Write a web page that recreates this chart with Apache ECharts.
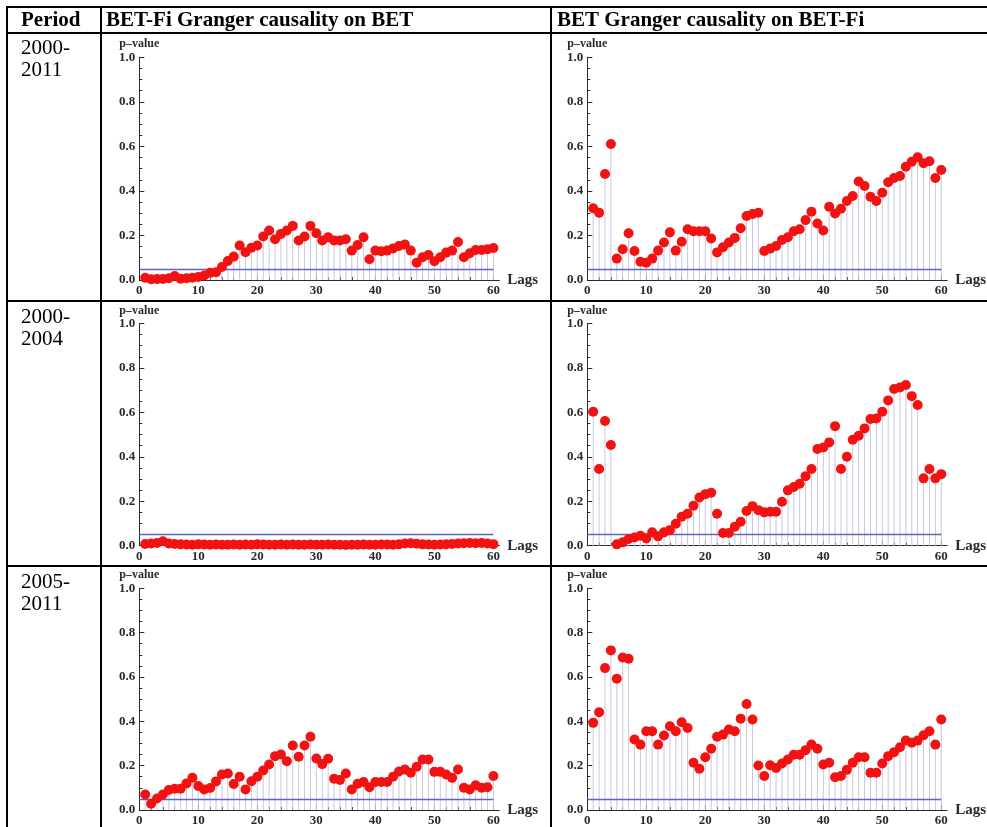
<!DOCTYPE html>
<html>
<head>
<meta charset="utf-8">
<script src="https://cdn.jsdelivr.net/npm/echarts@6/dist/echarts.min.js"></script>
<style>
  html, body { margin: 0; padding: 0; background: #ffffff; }
  #chart { width: 987px; height: 827px; }
</style>
</head>
<body>
<div id="chart"></div>
<script>
// Table headings and period labels
const columnTitles = ['Period', 'BET-Fi Granger causality on BET', 'BET Granger causality on BET-Fi'];
const periods = ['2000-\n2011', '2000-\n2004', '2005-\n2011'];

// Lag orders tested
const lags = [1, 2, 3, 4, 5, 6, 7, 8, 9, 10, 11, 12, 13, 14, 15, 16, 17, 18, 19, 20,
  21, 22, 23, 24, 25, 26, 27, 28, 29, 30, 31, 32, 33, 34, 35, 36, 37, 38, 39, 40,
  41, 42, 43, 44, 45, 46, 47, 48, 49, 50, 51, 52, 53, 54, 55, 56, 57, 58, 59, 60];

// Axis tick labels
const xTicks = [0, 10, 20, 30, 40, 50, 60];
const significance = 0.05;

// p-values: BET-Fi Granger-causes BET
const fiOnBet2000_2011 = [0.01, 0.003, 0.004, 0.005, 0.008, 0.018, 0.006, 0.008, 0.01, 0.014,
  0.02, 0.032, 0.035, 0.058, 0.085, 0.105, 0.155, 0.125, 0.145, 0.155,
  0.195, 0.222, 0.183, 0.207, 0.222, 0.243, 0.177, 0.195, 0.243, 0.21,
  0.177, 0.192, 0.177, 0.177, 0.183, 0.132, 0.157, 0.192, 0.093, 0.132,
  0.129, 0.132, 0.142, 0.153, 0.159, 0.132, 0.078, 0.102, 0.112, 0.084,
  0.102, 0.123, 0.132, 0.171, 0.102, 0.12, 0.135, 0.135, 0.138, 0.144];
const fiOnBet2000_2004 = [0.008, 0.01, 0.012, 0.02, 0.01, 0.008, 0.006, 0.005, 0.004, 0.006,
  0.005, 0.004, 0.005, 0.004, 0.004, 0.005, 0.004, 0.005, 0.004, 0.006,
  0.005, 0.004, 0.004, 0.005, 0.004, 0.005, 0.004, 0.004, 0.005, 0.004,
  0.004, 0.005, 0.004, 0.004, 0.003, 0.004, 0.004, 0.005, 0.004, 0.004,
  0.005, 0.005, 0.004, 0.006, 0.01, 0.011, 0.009, 0.006, 0.005, 0.004,
  0.005, 0.006, 0.008, 0.01, 0.011, 0.012, 0.011, 0.012, 0.01, 0.007];
const fiOnBet2005_2011 = [0.07, 0.028, 0.052, 0.07, 0.09, 0.096, 0.096, 0.12, 0.145, 0.108,
  0.093, 0.099, 0.129, 0.16, 0.165, 0.117, 0.15, 0.093, 0.13, 0.15,
  0.178, 0.205, 0.243, 0.25, 0.22, 0.291, 0.24, 0.291, 0.33, 0.232,
  0.207, 0.231, 0.141, 0.135, 0.165, 0.093, 0.118, 0.126, 0.103, 0.126,
  0.126, 0.126, 0.15, 0.174, 0.183, 0.168, 0.195, 0.228, 0.228, 0.172,
  0.172, 0.16, 0.145, 0.183, 0.1, 0.093, 0.112, 0.1, 0.103, 0.153];

// p-values: BET Granger-causes BET-Fi
const betOnFi2000_2011 = [0.322, 0.302, 0.476, 0.611, 0.096, 0.138, 0.21, 0.13, 0.082, 0.078,
  0.096, 0.132, 0.168, 0.214, 0.132, 0.172, 0.228, 0.219, 0.219, 0.219,
  0.186, 0.124, 0.147, 0.168, 0.189, 0.232, 0.287, 0.296, 0.302, 0.13,
  0.141, 0.153, 0.18, 0.192, 0.219, 0.228, 0.269, 0.307, 0.254, 0.222,
  0.329, 0.299, 0.32, 0.355, 0.377, 0.442, 0.422, 0.374, 0.355, 0.392,
  0.439, 0.458, 0.467, 0.509, 0.531, 0.551, 0.524, 0.533, 0.458, 0.494];
const betOnFi2000_2004 = [0.603, 0.345, 0.561, 0.453, 0.006, 0.015, 0.03, 0.037, 0.045, 0.033,
  0.06, 0.042, 0.06, 0.07, 0.099, 0.13, 0.144, 0.18, 0.217, 0.232,
  0.238, 0.144, 0.057, 0.057, 0.085, 0.108, 0.156, 0.178, 0.16, 0.15,
  0.153, 0.153, 0.198, 0.249, 0.264, 0.279, 0.313, 0.345, 0.435, 0.442,
  0.465, 0.538, 0.345, 0.4, 0.477, 0.495, 0.528, 0.57, 0.573, 0.603,
  0.654, 0.705, 0.712, 0.723, 0.673, 0.633, 0.303, 0.345, 0.303, 0.322];
const betOnFi2005_2011 = [0.393, 0.441, 0.64, 0.72, 0.592, 0.688, 0.682, 0.318, 0.295, 0.355,
  0.355, 0.295, 0.336, 0.378, 0.355, 0.396, 0.37, 0.213, 0.186, 0.238,
  0.276, 0.33, 0.34, 0.363, 0.355, 0.412, 0.478, 0.408, 0.201, 0.153,
  0.202, 0.19, 0.21, 0.228, 0.249, 0.249, 0.27, 0.295, 0.276, 0.205,
  0.213, 0.148, 0.153, 0.181, 0.213, 0.238, 0.238, 0.168, 0.168, 0.21,
  0.243, 0.261, 0.283, 0.313, 0.303, 0.313, 0.337, 0.355, 0.295, 0.408];

const panels = [
  { row: 0, col: 0, values: fiOnBet2000_2011 },
  { row: 0, col: 1, values: betOnFi2000_2011 },
  { row: 1, col: 0, values: fiOnBet2000_2004 },
  { row: 1, col: 1, values: betOnFi2000_2004 },
  { row: 2, col: 0, values: fiOnBet2005_2011 },
  { row: 2, col: 1, values: betOnFi2005_2011 }
];

// Layout of the table and the plot frames
const SERIF = '"Liberation Serif", "Times New Roman", serif';
const colLeft = [139.3, 587.3];
const rowTop = [57.3, 323.5, 588.3];
const plotHeight = [222.7, 222.2, 222.4];
const plotWidth = 360;
const xMax = 61;
const rowLines = [7, 33, 301, 566];
const colLines = [7, 101, 551];

// minor x ticks every 2 lags
const xMinorTicks = [];
for (let t = 0; t <= 60; t += 2) if (t % 10 !== 0) xMinorTicks.push(t);

const axisColor = '#2a2a2a';
const labelColor = '#2a2a2a';

const grids = [], xAxes = [], yAxes = [], series = [];

panels.forEach((p, i) => {
  grids.push({
    left: colLeft[p.col], top: rowTop[p.row],
    width: plotWidth, height: plotHeight[p.row],
    containLabel: false
  });
  // major x axis with labels
  xAxes.push({
    type: 'value', gridIndex: i, min: 0, max: xMax, position: 'bottom',
    name: 'Lags', nameLocation: 'end', nameGap: 8,
    nameTextStyle: { fontFamily: SERIF, fontWeight: 'bold', fontSize: 15, color: labelColor },
    axisLine: { show: true, onZero: false, lineStyle: { color: axisColor, width: 1 } },
    axisTick: { show: true, inside: true, length: 5, customValues: xTicks, lineStyle: { color: axisColor } },
    axisLabel: { show: true, customValues: xTicks, margin: 4, fontFamily: SERIF, fontWeight: 'bold', fontSize: 13, color: labelColor },
    splitLine: { show: false }
  });
  // minor x ticks
  xAxes.push({
    type: 'value', gridIndex: i, min: 0, max: xMax, position: 'bottom',
    axisLine: { show: false },
    axisTick: { show: true, inside: true, length: 3, customValues: xMinorTicks, lineStyle: { color: axisColor } },
    axisLabel: { show: false },
    splitLine: { show: false }
  });
  yAxes.push({
    type: 'value', gridIndex: i, min: 0, max: 1, interval: 0.2,
    name: 'p\u2013value', nameLocation: 'end', nameGap: 7,
    nameTextStyle: { fontFamily: SERIF, fontWeight: 'bold', fontSize: 12, color: labelColor, align: 'center' },
    axisLine: { show: true, onZero: false, lineStyle: { color: axisColor, width: 1 } },
    axisTick: { show: true, inside: true, length: 5, lineStyle: { color: axisColor } },
    minorTick: { show: true, splitNumber: 4, length: 3, lineStyle: { color: axisColor } },
    axisLabel: { show: true, margin: 4, fontFamily: SERIF, fontWeight: 'bold', fontSize: 13, color: labelColor,
      formatter: v => v.toFixed(1) },
    splitLine: { show: false }
  });

  const pts = lags.map((lag, k) => [lag, p.values[k]]);
  // stems from the axis up to each point
  series.push({
    type: 'bar', xAxisIndex: 2 * i, yAxisIndex: i, data: pts,
    barWidth: 1, silent: true, z: 1,
    itemStyle: { color: '#c6c8e2', opacity: 1 },
    markLine: {
      silent: true, symbol: ['none', 'none'], z: 2,
      label: { show: false },
      lineStyle: { color: '#6262c0', width: 1.3, type: 'solid', opacity: 1 },
      data: [[{ coord: [0, significance] }, { coord: [60, significance] }]]
    }
  });
  series.push({
    type: 'scatter', xAxisIndex: 2 * i, yAxisIndex: i, data: pts,
    symbol: 'circle', symbolSize: 10, silent: true, z: 3,
    itemStyle: { color: '#f21212', opacity: 1 }
  });
});

// table rules and cell text
const graphic = [];
rowLines.forEach(y => graphic.push({
  type: 'line', silent: true, z: 10,
  shape: { x1: colLines[0] - 1, y1: y, x2: 987, y2: y },
  style: { stroke: '#000', lineWidth: 2 }
}));
colLines.forEach(x => graphic.push({
  type: 'line', silent: true, z: 10,
  shape: { x1: x, y1: rowLines[0] - 1, x2: x, y2: 827 },
  style: { stroke: '#000', lineWidth: 2 }
}));
const headerX = [21, 106, 557];
columnTitles.forEach((t, k) => graphic.push({
  type: 'text', silent: true, z: 10, x: headerX[k], y: 9.8,
  style: { text: t, font: 'bold 21px ' + SERIF, fill: '#000', verticalAlign: 'top', lineHeight: 22 }
}));
const periodY = [37.5, 306.5, 571];
periods.forEach((t, k) => graphic.push({
  type: 'text', silent: true, z: 10, x: 21, y: periodY[k],
  style: { text: t, font: '21px ' + SERIF, fill: '#000', verticalAlign: 'top', lineHeight: 22 }
}));

const chart = echarts.init(document.getElementById('chart'), null, { renderer: 'canvas' });
chart.setOption({
  backgroundColor: '#ffffff',
  animation: false,
  grid: grids,
  xAxis: xAxes,
  yAxis: yAxes,
  series: series,
  graphic: graphic
});
</script>
</body>
</html>
